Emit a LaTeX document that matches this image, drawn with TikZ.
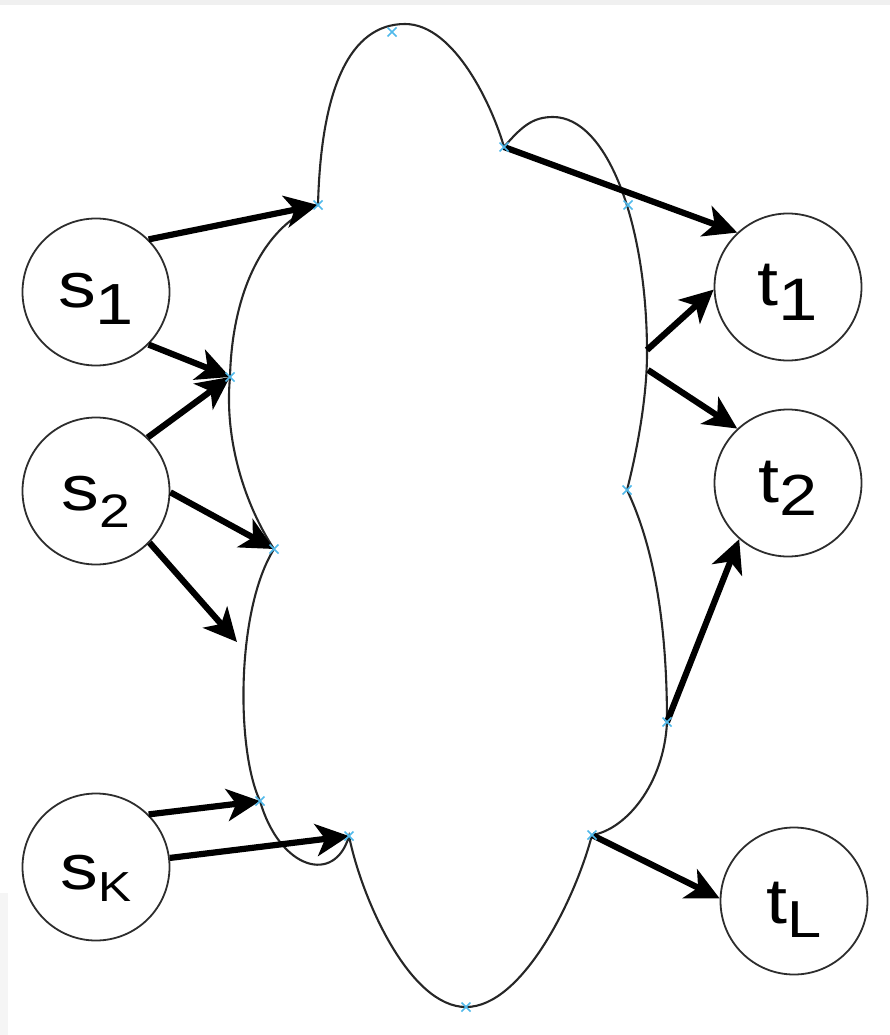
\documentclass[tikz,border=0pt]{standalone}
\usepackage{fontspec}
\setmainfont{Liberation Sans}
\usetikzlibrary{arrows.meta}
\definecolor{markblue}{RGB}{80,185,235}
\definecolor{edgegray}{RGB}{45,45,45}
% terminal label: main letter, subscript size, subscript, lowering (pt)
\newcommand{\termlabel}[4]{\scalebox{1.18}[1]{\fontsize{64}{64}\selectfont #1\raisebox{-#4pt}{\fontsize{#2}{#2}\selectfont #3}}}
\begin{document}
\begin{tikzpicture}[x=1pt,y=-1pt,
  terminal/.style={circle,draw=edgegray,line width=1.8pt,fill=white,
    minimum size=147pt,inner sep=0pt,text height=50pt},
  cloudline/.style={line width=2.1pt,black!85},
  flow/.style={line width=6.2pt,black,-{Stealth[length=33pt,width=32pt,inset=9pt]}},
  xcross/.style={markblue,line width=1.6pt}]
\path[use as bounding box] (0,0) rectangle (890,1035);
\fill[black!6] (0,0) rectangle (890,5);
\fill[black!4] (0,893) rectangle (8,1035);

% junction points on the cloud outline
\coordinate (A) at (318,205);
\coordinate (B) at (392,32);
\coordinate (C) at (504,147);
\coordinate (D) at (628,205);
\coordinate (E) at (627,490);
\coordinate (F) at (667,722);
\coordinate (G) at (592,835);
\coordinate (H) at (466,1007);
\coordinate (I) at (349,836);
\coordinate (J) at (260,801);
\coordinate (K) at (274,549);
\coordinate (L) at (230,377);
% free ends of connectors
\coordinate (gapL) at (237,642);
\coordinate (r1) at (647,350);
\coordinate (r2) at (648,370);

% the network cloud
\draw[cloudline] (A)
  .. controls (321,88) and (350,24) .. (405,24)
  .. controls (455,24) and (493,108) .. (C)
  .. controls (522,126) and (533,117) .. (553,117)
  .. controls (607,117) and (647,223) .. (647,353)
  .. controls (647,400) and (636,455) .. (E)
  .. controls (658,555) and (667,640) .. (F)
  .. controls (664,785) and (625,830) .. (G)
  .. controls (575,900) and (522,1007) .. (H)
  .. controls (410,1007) and (362,900) .. (I)
  .. controls (335,885) and (280,870) .. (J)
  .. controls (236,750) and (236,610) .. (K)
  .. controls (245,505) and (224,440) .. (L)
  .. controls (232,295) and (262,226) .. (A);

% sources and sinks
\node[terminal,text depth=19pt] (s1) at (96,292) {\termlabel{s}{58}{1}{17}};
\node[terminal,text depth=12pt] (s2) at (96,491) {\termlabel{s}{47}{2}{17}};
\node[terminal,text depth=5pt]  (sK) at (96,867) {\termlabel{s}{42}{K}{12}};
\node[terminal,text depth=14pt] (t1) at (788,287) {\termlabel{t}{60}{1}{15}};
\node[terminal,text depth=12pt] (t2) at (788,483) {\termlabel{t}{58}{2}{13}};
\node[terminal,text depth=6pt]  (tL) at (794,901) {\termlabel{t}{52}{L}{14}};

% flows into the cloud
\draw[flow] (s1.45) -- (A);
\draw[flow] (s1.-45) -- (L);
\draw[flow] (s2.46) -- (L);
\draw[flow] (s2.-1) -- (K);
\draw[flow] (s2.-44) -- (gapL);
\draw[flow] (sK.45) -- (J);
\draw[flow] (sK.7) -- (I);
% flows out of the cloud
\draw[flow] (C) -- (t1.133);
\draw[flow] (r1) -- (t1.182);
\draw[flow] (r2) -- (t2.133);
\draw[flow] (F) -- (t2.229);
\draw[flow] (G) -- (tL.178);

% junction markers
\foreach \p in {A,B,C,D,E,F,G,H,I,J,K,L}
  \draw[xcross] (\p) ++(-4.5,-4.5) -- ++(9,9) ++(-9,0) -- ++(9,-9);
\end{tikzpicture}
\end{document}
